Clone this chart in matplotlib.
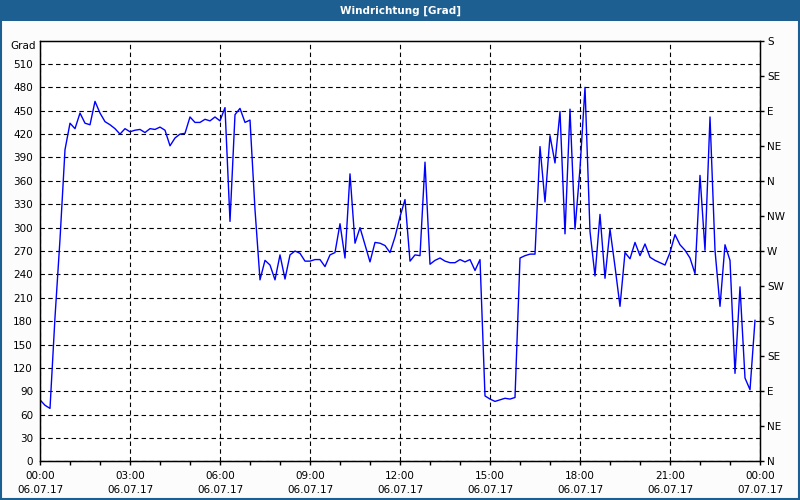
import numpy as np
import matplotlib
matplotlib.use("Agg")
import matplotlib.pyplot as plt
from matplotlib.patches import Rectangle

# Windrichtung in Grad, 10-Minuten-Werte ab 06.07.17 00:00
richtung = [
    79, 72, 68, 185, 285, 400, 434, 427, 447, 434, 432, 462,
    447, 436, 432, 427, 420, 427, 423, 425, 426, 422, 427, 426,
    429, 425, 405, 415, 420, 421, 442, 435, 435, 439, 437, 442,
    437, 454, 308, 445, 453, 435, 438, 323, 233, 258, 252, 233,
    265, 234, 265, 270, 267, 257, 257, 259, 259, 250, 265, 268,
    305, 261, 369, 280, 300, 278, 256, 281, 280, 277, 268, 288,
    314, 336, 257, 265, 264, 384, 253, 258, 261, 257, 255, 255,
    259, 256, 259, 245, 259, 84, 80, 77, 79, 81, 80, 82,
    261, 264, 266, 266, 404, 333, 418, 383, 449, 292, 452, 298,
    376, 480, 295, 238, 317, 235, 298, 250, 199, 268, 260, 281,
    264, 279, 262, 258, 255, 252, 268, 291, 278, 271, 261, 241,
    367, 271, 442, 271, 199, 278, 258, 113, 224, 107, 92, 181,
]
stunden = np.arange(len(richtung)) / 6.0

x_labels = ["00:00\n06.07.17", "03:00\n06.07.17", "06:00\n06.07.17",
            "09:00\n06.07.17", "12:00\n06.07.17", "15:00\n06.07.17",
            "18:00\n06.07.17", "21:00\n06.07.17", "00:00\n07.07.17"]
grad_ticks = list(range(0, 540, 30))
himmel = ["N", "NE", "E", "SE", "S", "SW", "W", "NW",
          "N", "NE", "E", "SE", "S"]

plt.rcParams["font.family"] = "DejaVu Sans"
plt.rcParams["font.size"] = 7.5

fig = plt.figure(figsize=(8, 5), dpi=100, facecolor="#fbfcfb")

# Titelleiste
fig.patches.append(Rectangle((0, 0.958), 1, 0.042, transform=fig.transFigure,
                             facecolor="#1e5f91", edgecolor="none", zorder=0))
fig.text(0.5, 0.979, "Windrichtung [Grad]", color="white", fontweight="bold",
         ha="center", va="center", fontsize=7.5)
# Rahmen
fig.patches.append(Rectangle((0.001, 0.002), 0.998, 0.996, transform=fig.transFigure,
                             facecolor="none", edgecolor="#1e5f91", linewidth=1.5))

ax = fig.add_axes([0.05, 0.0772, 0.90, 0.8416])
ax.set_facecolor("white")
ax.plot(stunden, richtung, color="#0000ff", linewidth=1)

ax.set_xlim(0, 24)
ax.set_ylim(0, 540)
ax.set_xticks(range(0, 25, 3))
ax.set_xticklabels(x_labels, linespacing=1.45)
ax.set_xticks(range(0, 25), minor=True)
ax.set_yticks(grad_ticks)
ax.set_yticklabels([str(v) for v in grad_ticks])

ax.grid(True, which="major", color="black", linestyle=(0, (4, 3)), linewidth=0.8)
ax.tick_params(axis="x", which="both", length=3, width=1, pad=4, colors="black")
ax.tick_params(axis="y", length=0, pad=5)
for s in ax.spines.values():
    s.set_linewidth(1)
    s.set_color("black")

ax2 = ax.twinx()
ax2.set_ylim(0, 540)
ax2.set_yticks(range(0, 541, 45))
ax2.set_yticklabels(himmel)
ax2.tick_params(axis="y", length=3, width=1, pad=2)

fig.text(0.045, 1 - 46 / 500, "Grad", ha="right", va="center")

fig.savefig("out.png", dpi=100, facecolor=fig.get_facecolor())
